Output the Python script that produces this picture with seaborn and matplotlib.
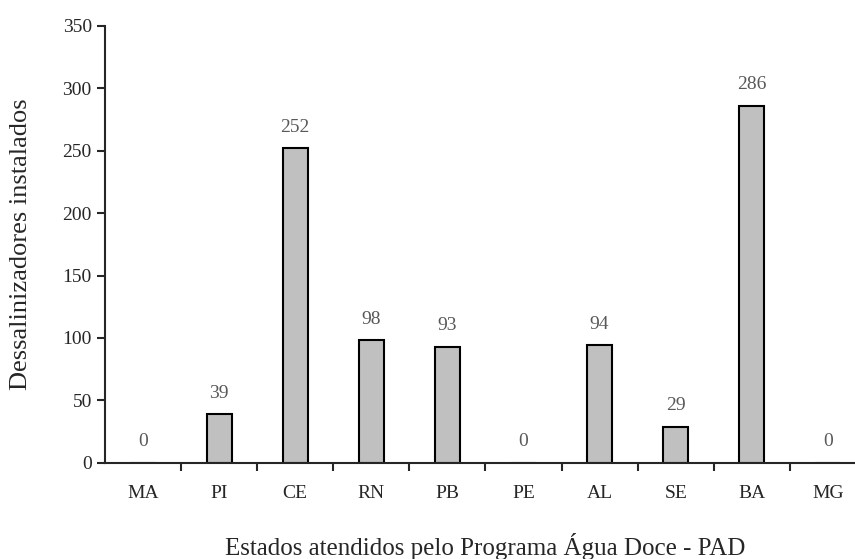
import numpy as np
import pandas as pd
import matplotlib
matplotlib.use('Agg')
import matplotlib.pyplot as plt
from matplotlib.ticker import FixedLocator
import seaborn as sns

# Dessalinizadores por estado
estados = ['MA', 'PI', 'CE', 'RN', 'PB', 'PE', 'AL', 'SE', 'BA', 'MG']
instalados = [0, 39, 252, 98, 93, 0, 94, 29, 286, 0]

df = pd.DataFrame({'estado': estados, 'instalados': instalados})

sns.set_style('ticks')
plt.rcParams['font.family'] = ['Liberation Serif', 'DejaVu Serif']

fig = plt.figure(figsize=(8.55, 5.59), dpi=100)
# the right end of the axis runs past the image edge, as in the original
ax = fig.add_axes([0.1228, 0.172, 0.890, 0.782])

sns.barplot(data=df, x='estado', y='instalados', color='#c0c0c0',
            edgecolor='black', linewidth=1.5, width=0.33, saturation=1, ax=ax)

for i, v in enumerate(instalados):
    ax.annotate(str(v), (i, v), xytext=(0, 9), textcoords='offset points',
                ha='center', va='bottom', fontsize=14, color='#595959')

ax.set_xlim(-0.5, len(estados) - 0.5)
ax.set_ylim(0, 350)
ax.set_yticks(range(0, 351, 50))
ax.xaxis.set_minor_locator(FixedLocator(np.arange(0.5, len(estados) - 0.5, 1)))
ax.tick_params(axis='x', which='major', length=0, labelsize=14, pad=16)
ax.tick_params(axis='x', which='minor', length=6, width=1.5, direction='out')
ax.tick_params(axis='y', length=6, width=1.5, direction='out', labelsize=14)

for s in ['top', 'right']:
    ax.spines[s].set_visible(False)
for s in ['left', 'bottom']:
    ax.spines[s].set_linewidth(1.5)

ax.set_xlabel('Estados atendidos pelo Programa Água Doce - PAD', fontsize=18, labelpad=22)
ax.set_ylabel('Dessalinizadores instalados', fontsize=19, labelpad=22)

fig.savefig('out.png', dpi=100)
